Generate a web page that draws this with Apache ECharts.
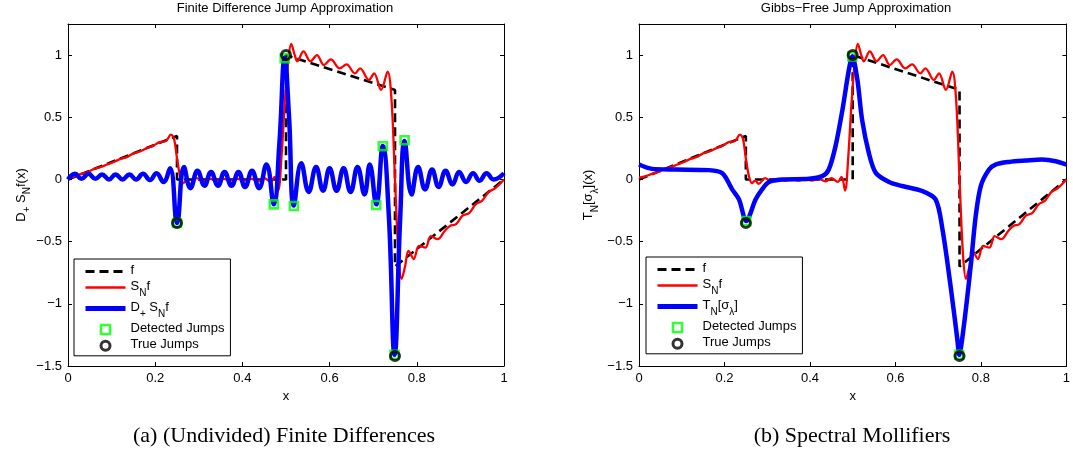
<!DOCTYPE html>
<html><head><meta charset="utf-8">
<script src="https://cdn.jsdelivr.net/npm/echarts@6/dist/echarts.min.js"></script>
<style>html,body{margin:0;padding:0;background:#fff}#c{width:1073px;height:461px}</style>
</head><body><div id="c"></div>
<script>
// ---------- data ----------
const xTickVals = [0, 0.2, 0.4, 0.6, 0.8, 1];
const xTickLabels = ['0', '0.2', '0.4', '0.6', '0.8', '1'];
const yTickVals = [-1.5, -1, -0.5, 0, 0.5, 1];
const yTickLabels = ['\u22121.5', '\u22121', '\u22120.5', '0', '0.5', '1'];

// piecewise function f
const fX = [0, 0.25, 0.25, 0.5, 0.5, 0.75, 0.75, 1];
const fY = [0, 0.35, 0, 0, 1, 0.72, -0.70, 0];

// Fourier partial sum S_N f
const snX = [0.000,0.015,0.030,0.045,0.060,0.075,0.090,0.105,0.120,0.135,0.150,0.165,0.180,0.195,0.210,0.225,0.236,0.243,0.250,0.257,0.264,0.272,0.280,0.295,0.310,0.326,0.342,0.357,0.373,0.389,0.404,0.420,0.436,0.450,0.465,0.474,0.482,0.490,0.497,0.505,0.512,0.520,0.526,0.540,0.556,0.571,0.587,0.603,0.623,0.639,0.658,0.670,0.690,0.702,0.718,0.733,0.742,0.750,0.758,0.765,0.773,0.781,0.793,0.805,0.820,0.832,0.848,0.864,0.876,0.890,0.905,0.920,0.935,0.950,0.965,0.980,1.000];
const snY = [0.015,0.025,0.045,0.060,0.085,0.100,0.120,0.140,0.165,0.180,0.210,0.225,0.250,0.270,0.300,0.310,0.360,0.330,0.170,0.030,-0.030,-0.010,-0.035,0.010,-0.015,0.005,-0.010,0.005,-0.010,0.005,-0.010,0.005,-0.015,0.010,-0.020,0.020,-0.090,0.200,0.600,0.950,1.090,1.000,0.950,1.030,0.950,1.000,0.920,0.965,0.893,0.925,0.853,0.893,0.800,0.853,0.720,0.867,0.640,0.000,-0.600,-0.800,-0.700,-0.575,-0.640,-0.535,-0.548,-0.455,-0.480,-0.414,-0.374,-0.360,-0.290,-0.270,-0.200,-0.170,-0.100,-0.070,0.000];

// D_+ S_N f (left panel)
const dX = [0,0.016,0.031,0.047,0.063,0.078,0.094,0.109,0.125,0.141,0.156,0.172,0.188,0.203,0.219,0.234,0.250,0.266,0.281,0.297,0.313,0.328,0.344,0.359,0.375,0.391,0.406,0.422,0.438,0.455,0.472,0.485,0.497,0.507,0.518,0.535,0.552,0.569,0.585,0.600,0.616,0.632,0.648,0.664,0.680,0.692,0.707,0.722,0.736,0.749,0.762,0.772,0.788,0.803,0.819,0.835,0.850,0.866,0.882,0.897,0.913,0.929,0.944,0.960,0.976,1.000];
const dY = [0.000,0.045,0.005,0.045,0.005,0.040,0.000,0.040,0.000,0.040,0.000,0.045,-0.005,0.050,-0.020,0.090,-0.350,0.100,-0.070,0.070,-0.050,0.060,-0.050,0.060,-0.050,0.060,-0.060,0.070,-0.070,0.120,-0.200,0.300,0.980,0.500,-0.210,0.130,-0.100,0.100,-0.090,0.090,-0.090,0.090,-0.100,0.100,-0.120,0.120,-0.200,0.270,-0.300,-1.410,-0.300,0.310,-0.120,0.100,-0.080,0.080,-0.060,0.070,-0.040,0.060,-0.020,0.050,-0.010,0.050,0.000,0.050];

// T_N[sigma_lambda] (right panel)
const tX = [0,0.031,0.086,0.164,0.195,0.218,0.234,0.251,0.273,0.288,0.304,0.335,0.398,0.429,0.444,0.460,0.476,0.491,0.499,0.511,0.522,0.538,0.554,0.585,0.616,0.663,0.694,0.710,0.729,0.745,0.749,0.760,0.776,0.788,0.800,0.819,0.834,0.866,0.905,0.943,0.975,1.000];
const tY = [0.120,0.085,0.080,0.075,0.050,-0.080,-0.160,-0.335,-0.160,-0.080,-0.020,0.000,0.005,0.027,0.080,0.270,0.560,0.880,0.990,0.800,0.480,0.210,0.053,-0.020,-0.053,-0.093,-0.160,-0.400,-0.857,-1.290,-1.410,-1.180,-0.700,-0.290,-0.050,0.080,0.120,0.141,0.152,0.160,0.147,0.120];

// jumps
const detLX = [0.250,0.472,0.497,0.518,0.707,0.722,0.749,0.772];
const detLY = [-0.350,-0.200,0.975,-0.213,-0.205,0.267,-1.410,0.315];
const detRX = [0.251,0.499,0.749];
const detRY = [-0.335,0.990,-1.410];
const trueX = [0.25,0.5,0.75];
const trueY = [-0.35,1.0,-1.42];

// ---------- build ----------
const zip = (a,b) => a.map((v,i)=>[v,b[i]]);
const FONT = 'Liberation Sans, Arial, sans-serif';
const BLACK = '#000';
const SQUARE = 'path://M0,0L10,0L10,10L0,10Z';

function xAxes(grid){
  return [
    {gridIndex:grid,type:'value',min:0,max:1,interval:0.2,position:'bottom',
     axisLine:{onZero:false,lineStyle:{color:BLACK,width:1}},
     axisTick:{inside:true,length:4,lineStyle:{color:BLACK}},
     splitLine:{show:false},
     axisLabel:{color:BLACK,fontSize:13,fontFamily:FONT,margin:6,
       formatter:v=>{const i=xTickVals.findIndex(t=>Math.abs(t-v)<1e-9);return i<0?'':xTickLabels[i];}},
     name:'x',nameLocation:'middle',nameGap:24,nameTextStyle:{color:BLACK,fontSize:13,fontFamily:FONT}},
    {gridIndex:grid,type:'value',min:0,max:1,interval:0.2,position:'top',
     axisLine:{onZero:false,lineStyle:{color:BLACK,width:1}},
     axisTick:{inside:true,length:4,lineStyle:{color:BLACK}},
     splitLine:{show:false},axisLabel:{show:false}}
  ];
}
function richStyles(){
  return {
    n:{fontSize:13,fontFamily:FONT,color:BLACK,lineHeight:15,verticalAlign:'top'},
    s:{fontSize:10,fontFamily:FONT,color:BLACK,lineHeight:11,padding:[8,0,0,0],verticalAlign:'top'}
  };
}
function yAxes(grid,nameStr,gap){
  return [
    {gridIndex:grid,type:'value',min:-1.5,max:1.25,interval:0.5,position:'left',
     axisLine:{onZero:false,lineStyle:{color:BLACK,width:1}},
     axisTick:{inside:true,length:4,lineStyle:{color:BLACK}},
     splitLine:{show:false},
     axisLabel:{color:BLACK,fontSize:13,fontFamily:FONT,margin:6,showMaxLabel:false,
       formatter:v=>{const i=yTickVals.findIndex(t=>Math.abs(t-v)<1e-9);return i<0?'':yTickLabels[i];}},
     name:nameStr,nameLocation:'middle',nameGap:gap,nameRotate:90,
     nameTextStyle:{color:BLACK,fontSize:13,fontFamily:FONT,rich:richStyles()}},
    {gridIndex:grid,type:'value',min:-1.5,max:1.25,interval:0.5,position:'right',
     axisLine:{onZero:false,lineStyle:{color:BLACK,width:1}},
     axisTick:{inside:true,length:4,lineStyle:{color:BLACK}},
     splitLine:{show:false},axisLabel:{show:false}}
  ];
}
const legendText = {
  'f':'{n|f}',
  'SNf':'{n|S}{s|N}{n|f}',
  'DSNf':'{n|D}{s|+}{n| S}{s|N}{n|f}',
  'TN':'{n|T}{s|N}{n|[\u03c3}{s|\u03bb}{n|]}',
  'Detected Jumps':'{n|Detected Jumps}',
  'True Jumps':'{n|True Jumps}'
};

function panelSeries(xi, yi, blueName, blueX, blueY, detX, detY, blueSmooth){
  return [
    {name:'f',type:'line',xAxisIndex:xi,yAxisIndex:yi,data:zip(fX,fY),showSymbol:false,symbol:'none',
     itemStyle:{color:BLACK},lineStyle:{color:BLACK,width:2.6,type:[9,5]},z:2,silent:true},
    {name:'SNf',type:'line',xAxisIndex:xi,yAxisIndex:yi,data:zip(snX,snY),showSymbol:false,symbol:'none',
     itemStyle:{color:'#ff0000'},smooth:0.35,lineStyle:{color:'#ff0000',width:2.3},z:3,silent:true},
    {name:blueName,type:'line',xAxisIndex:xi,yAxisIndex:yi,data:zip(blueX,blueY),showSymbol:false,symbol:'none',
     itemStyle:{color:'#0000ff'},smooth:blueSmooth,lineStyle:{color:'#0000ff',width:4.5},z:4,silent:true},
    {name:'Detected Jumps',type:'scatter',xAxisIndex:xi,yAxisIndex:yi,data:zip(detX,detY),symbol:'rect',symbolSize:8,
     itemStyle:{color:'rgba(0,0,0,0)',borderColor:'#00ff00',borderWidth:2.6},z:5,silent:true},
    {name:'True Jumps',type:'scatter',xAxisIndex:xi,yAxisIndex:yi,data:zip(trueX,trueY),symbol:'circle',symbolSize:9,
     itemStyle:{color:'rgba(0,0,0,0)',borderColor:BLACK,borderWidth:3},z:6,silent:true}
  ];
}
function legendFor(left, top, blueName){
  return {
    orient:'vertical',left:left,top:top,padding:[5,6,4,9],itemGap:3,itemWidth:40,itemHeight:9,
    backgroundColor:'#fff',borderColor:BLACK,borderWidth:1,borderRadius:0,selectedMode:false,
    symbolKeepAspect:true,
    textStyle:{fontSize:13,fontFamily:FONT,color:BLACK,rich:richStyles()},
    formatter:n=>legendText[n],
    data:[
      {name:'f',itemStyle:{opacity:0},lineStyle:{color:BLACK,width:3,type:[9,5]}},
      {name:'SNf',itemStyle:{opacity:0},lineStyle:{color:'#ff0000',width:2.5}},
      {name:blueName,itemStyle:{opacity:0},lineStyle:{color:'#0000ff',width:5}},
      {name:'Detected Jumps',icon:SQUARE,itemStyle:{color:'#fff',borderColor:'#00ff00',borderWidth:2.6}},
      {name:'True Jumps',icon:'circle',itemStyle:{color:'#fff',borderColor:BLACK,borderWidth:3}}
    ]
  };
}

const chart = echarts.init(document.getElementById('c'), null, {renderer:'canvas'});
chart.setOption({
  backgroundColor:'#fff',
  animation:false,
  title:[
    {text:'Finite Difference Jump Approximation',left:285,top:2,textAlign:'center',padding:0,
     textStyle:{fontSize:13,fontWeight:'normal',fontFamily:FONT,color:BLACK}},
    {text:'Gibbs\u2212Free Jump Approximation',left:856,top:2,textAlign:'center',padding:0,
     textStyle:{fontSize:13,fontWeight:'normal',fontFamily:FONT,color:BLACK}}
  ],
  grid:[
    {left:68,top:24,right:569,bottom:95,containLabel:false},
    {left:639,top:24,right:-1,bottom:95,containLabel:false}
  ],
  xAxis:[...xAxes(0),...xAxes(1)],
  yAxis:[...yAxes(0,'{n|D}{s|+}{n| S}{s|N}{n|f(x)}',38),...yAxes(1,'{n|T}{s|N}{n|[\u03c3}{s|\u03bb}{n|](x)}',42)],
  legend:[legendFor(74,259,'DSNf'),legendFor(646,257,'TN')],
  series:[
    ...panelSeries(0,0,'DSNf',dX,dY,detLX,detLY,0.45),
    ...panelSeries(2,2,'TN',tX,tY,detRX,detRY,0.3)
  ],
  graphic:[
    {type:'text',x:284,y:436,style:{text:'(a) (Undivided) Finite Differences',fontFamily:'Liberation Serif, serif',fontSize:22,fill:BLACK,align:'center',verticalAlign:'middle'}},
    {type:'text',x:852,y:436,style:{text:'(b) Spectral Mollifiers',fontFamily:'Liberation Serif, serif',fontSize:22,fill:BLACK,align:'center',verticalAlign:'middle'}}
  ]
});
</script></body></html>
